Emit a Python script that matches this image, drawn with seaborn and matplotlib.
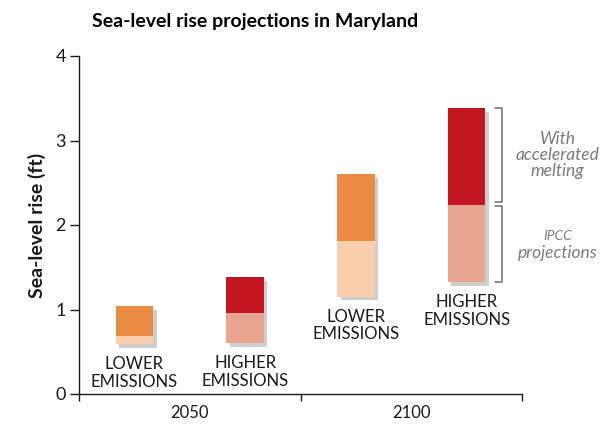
import pandas as pd
import seaborn as sns
import matplotlib.pyplot as plt
import matplotlib.patheffects as pe
from matplotlib.ticker import FixedLocator

# Values (feet)
years = ['2050', '2050', '2100', '2100']
scenarios = ['Lower', 'Higher', 'Lower', 'Higher']
ipcc_low = [0.59, 0.60, 1.15, 1.32]
ipcc_high = [0.69, 0.96, 1.81, 2.24]
melt_high = [1.04, 1.38, 2.60, 3.38]
year_labels = ['2050', '2100']
bar_labels = {'Lower': 'LOWER\nEMISSIONS', 'Higher': 'HIGHER\nEMISSIONS'}

light = {'Lower': '#F8CEAC', 'Higher': '#E8A691'}
dark = {'Lower': '#EB8A42', 'Higher': '#C41620'}

df = pd.DataFrame({'year': years, 'scenario': scenarios,
                   'low': ipcc_low, 'mid': ipcc_high, 'high': melt_high})
df['pos'] = (df['year'].map({y: i for i, y in enumerate(year_labels)})
             + df['scenario'].map({'Lower': 0.25, 'Higher': 0.75}))

sns.set_style('white')
plt.rcParams['font.family'] = ['Lato', 'DejaVu Sans']
text_col = '#1a1a1a'
note_col = '#7a7a7a'

fig = plt.figure(figsize=(6.13, 4.25), dpi=100)
ax = fig.add_axes([79 / 613, 1 - 394 / 425, 443 / 613, 338 / 425])

# upper segments first so their shadows sit under the lower segments
for scen in ['Lower', 'Higher']:
    sub = df[df['scenario'] == scen]
    sns.barplot(x=sub['pos'], y=sub['high'] - sub['mid'], bottom=sub['mid'].values,
                native_scale=True, width=0.17, color=dark[scen], saturation=1,
                errorbar=None, linewidth=0, ax=ax)
for scen in ['Lower', 'Higher']:
    sub = df[df['scenario'] == scen]
    sns.barplot(x=sub['pos'], y=sub['mid'] - sub['low'], bottom=sub['low'].values,
                native_scale=True, width=0.17, color=light[scen], saturation=1,
                errorbar=None, linewidth=0, ax=ax)

for p in ax.patches:
    p.set_path_effects([pe.SimplePatchShadow(offset=(2.5, -2.5), shadow_rgbFace='0.45', alpha=0.35),
                        pe.Normal()])

# labels under each bar
for _, r in df.iterrows():
    ax.annotate(bar_labels[r['scenario']], xy=(r['pos'], r['low']), xytext=(0, -8.5),
                textcoords='offset points', ha='center', va='top', fontsize=12,
                color=text_col, linespacing=1.12)

# brackets beside the last bar
last = df.iloc[-1]
bx, tick = 1.91, 0.032
ax.plot([bx - tick, bx, bx, bx - tick], [last['high'], last['high'], last['mid'] + 0.03, last['mid'] + 0.03],
        color=note_col, lw=1.2, clip_on=False)
ax.plot([bx - tick, bx, bx, bx - tick], [last['mid'] - 0.02, last['mid'] - 0.02, last['low'], last['low']],
        color=note_col, lw=1.2, clip_on=False)
ax.text(2.16, (last['high'] + last['mid']) / 2 + 0.02, 'With\naccelerated\nmelting', ha='center', va='center',
        fontsize=12.5, style='italic', color=note_col, linespacing=1.0)
ax.text(2.16, 1.87, 'IPCC', ha='center', va='center', fontsize=10, style='italic', color=note_col)
ax.text(2.16, 1.67, 'projections', ha='center', va='center', fontsize=12.5, style='italic', color=note_col)

ax.set_xlim(0, 2)
ax.set_ylim(0, 4)
ax.set_yticks([0, 1, 2, 3, 4])
ax.xaxis.set_major_locator(FixedLocator([0.5, 1.5]))
ax.set_xticklabels(year_labels)
ax.xaxis.set_minor_locator(FixedLocator([0, 1, 2]))
ax.tick_params(axis='x', which='major', length=0, pad=8, labelsize=12, colors=text_col)
ax.tick_params(axis='x', which='minor', length=5, width=1, direction='out', bottom=True, color=text_col)
ax.tick_params(axis='y', length=6.5, width=1, direction='out', left=True, pad=3, labelsize=13, colors=text_col)
ax.set_xlabel('')
ax.set_ylabel('Sea-level rise (ft)', fontsize=14, fontweight='bold', color=text_col, labelpad=7)

sns.despine(ax=ax)
for s in ['left', 'bottom']:
    ax.spines[s].set_color(text_col)
    ax.spines[s].set_linewidth(1)

fig.text(255 / 613, 1 - 22 / 425, 'Sea-level rise projections in Maryland', ha='center', va='center',
         fontsize=14, fontweight='bold', color='black')

fig.savefig('out.png', dpi=100)
